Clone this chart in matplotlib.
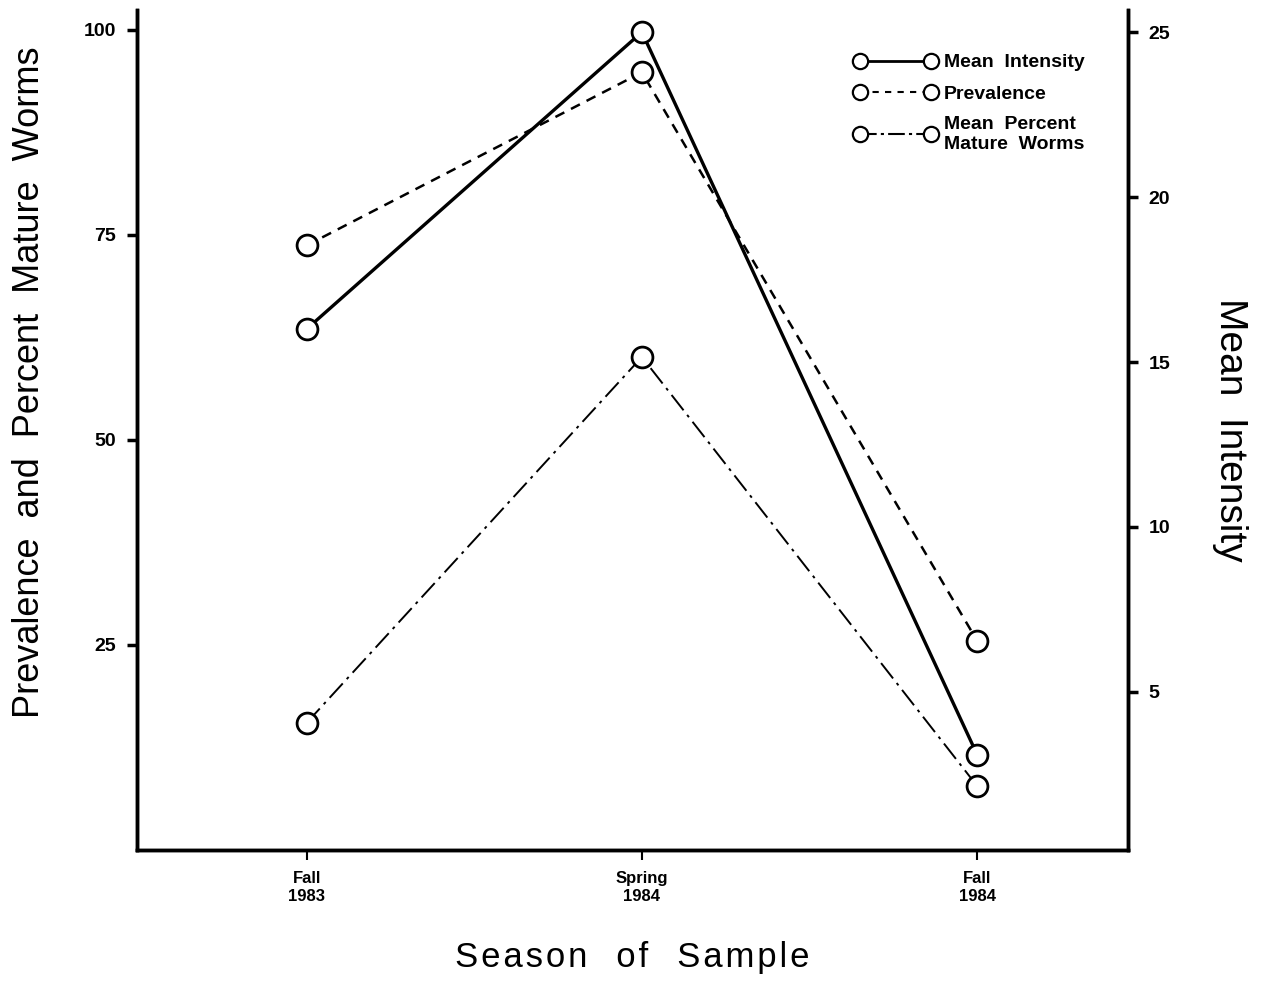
import numpy as np
import matplotlib
matplotlib.use("Agg")
import matplotlib.pyplot as plt
from matplotlib.lines import Line2D

plt.rcParams['font.family'] = ['Liberation Sans', 'DejaVu Sans']

seasons = ["Fall\n1983", "Spring\n1984", "Fall\n1984"]
mean_intensity = [16.0, 25.0, 3.1]      # right axis
prevalence = [73.7, 94.8, 25.5]         # left axis
pct_mature = [15.5, 60.1, 7.8]          # left axis

x = np.arange(len(seasons))

fig = plt.figure(figsize=(12.67, 9.82), dpi=100)
ax = fig.add_axes([137/1267, 1-850/982, (1128-137)/1267, (850-10)/982])
ax2 = ax.twinx()

mk = dict(marker='o', markersize=15, markerfacecolor='white',
          markeredgecolor='black', markeredgewidth=2, color='black')

ax.plot(x, prevalence, linestyle=(0, (4, 3)), linewidth=1.8, **mk)
ax.plot(x, pct_mature, linestyle=(0, (10, 3, 1.5, 3)), linewidth=1.4, **mk)
ax2.plot(x, mean_intensity, linestyle='-', linewidth=2.4, **mk)

ax.set_xlim(-0.506, 2.45)
ax.set_ylim(0, 102.4)
ax2.set_ylim(0.21, 25.67)

ax.set_xticks(x)
ax.set_xticklabels(seasons, fontsize=12, fontweight='bold', linespacing=1.3)
ax.set_yticks([25, 50, 75, 100])
ax.set_yticklabels(['25', '50', '75', '100'], fontsize=14, fontweight='bold')
ax2.set_yticks([5, 10, 15, 20, 25])
ax2.set_yticklabels(['5', '10', '15', '20', '25'], fontsize=14, fontweight='bold')

for a in (ax, ax2):
    a.spines['top'].set_visible(False)
    for s in ('left', 'right', 'bottom'):
        a.spines[s].set_linewidth(2.5)
    a.tick_params(direction='out', length=7, width=2.5, pad=8)
ax.tick_params(axis='x', length=7, width=1.5, pad=8)

ax.set_ylabel("Prevalence  and  Percent  Mature  Worms", fontsize=26)
ax.yaxis.set_label_coords(-0.091, 0.557)
ax2.set_ylabel("Mean  Intensity", fontsize=28, rotation=270, labelpad=56)
ax.set_xlabel("S e a s o n    o f    S a m p l e".replace(" ", "\u200a").replace("\u200a\u200a\u200a\u200a", "   "),
              fontsize=25, labelpad=26)

small = dict(marker='o', markersize=11, markerfacecolor='white',
             markeredgecolor='black', markeredgewidth=1.6, color='black')
handles = [
    Line2D([], [], linestyle='-', linewidth=2, **small),
    Line2D([], [], linestyle=(0, (3, 3)), linewidth=1.5, **small),
    Line2D([], [], linestyle=(0, (8, 2, 1.5, 2)), linewidth=1.5, **small),
]
labels = ["Mean  Intensity", "Prevalence", "Mean  Percent\nMature  Worms"]
fig.legend(handles, labels, loc='upper left', bbox_to_anchor=(0.66, 0.963),
           frameon=False, numpoints=2, handlelength=4.3, handletextpad=0.35,
           labelspacing=0.7, prop=dict(size=14, weight='bold'))

fig.savefig("out.png", dpi=100)
